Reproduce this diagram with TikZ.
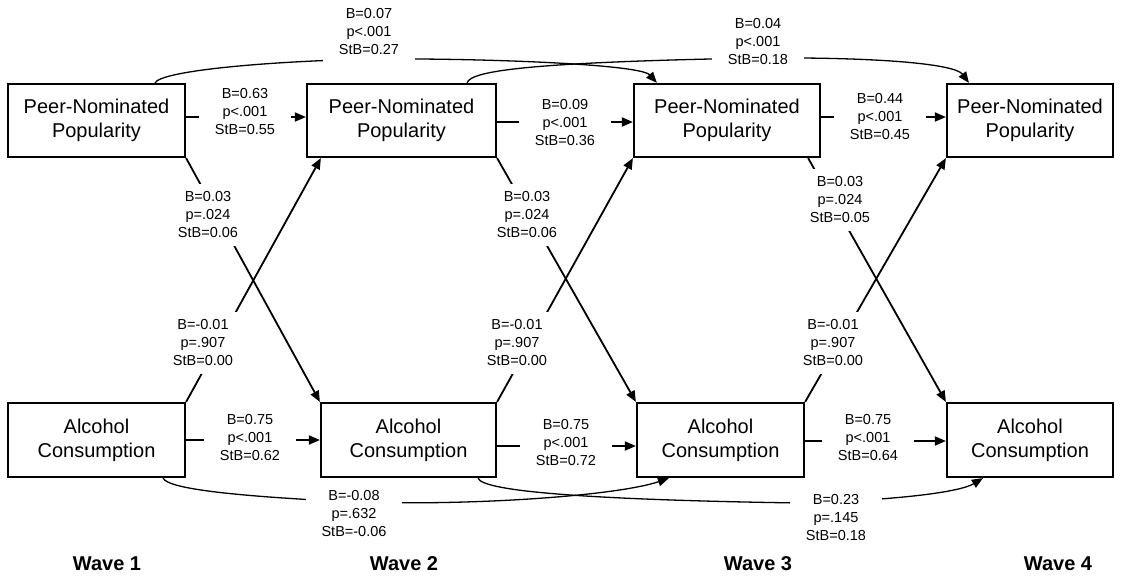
\documentclass[tikz,border=0pt]{standalone}
\usepackage{fontspec}
\setmainfont{Liberation Sans}
\usetikzlibrary{arrows.meta}
\begin{document}
\begin{tikzpicture}[x=1pt,y=-1pt,
  box/.style={draw,line width=2.2pt,align=center,font=\fontsize{20}{24}\selectfont,inner sep=0pt},
  lab/.style={fill=white,align=center,font=\fontsize{14.5}{18}\selectfont,inner xsep=16pt,inner ysep=8pt},
  arr/.style={line width=1.8pt,-{Triangle[length=11pt,width=9pt]}},
  curv/.style={line width=1.3pt,-{Triangle[length=11pt,width=9pt]}},
  wavelab/.style={font=\fontsize{20}{24}\selectfont\bfseries}]
\useasboundingbox (0,0) rectangle (1124,579);
% boxes
\node[box,minimum width=177pt,minimum height=73pt] (P1) at (96.5,120.5) {Peer-Nominated\\Popularity};
\node[box,minimum width=189pt,minimum height=73pt] (P2) at (401.5,120.5) {Peer-Nominated\\Popularity};
\node[box,minimum width=186pt,minimum height=73pt] (P3) at (727,120.5) {Peer-Nominated\\Popularity};
\node[box,minimum width=166pt,minimum height=73pt] (P4) at (1030,120.5) {Peer-Nominated\\Popularity};
\node[box,minimum width=177pt,minimum height=74pt] (A1) at (96.5,440) {Alcohol\\Consumption};
\node[box,minimum width=175pt,minimum height=74pt] (A2) at (408.5,440) {Alcohol\\Consumption};
\node[box,minimum width=167pt,minimum height=74pt] (A3) at (720.5,440) {Alcohol\\Consumption};
\node[box,minimum width=166pt,minimum height=74pt] (A4) at (1030,440) {Alcohol\\Consumption};
% horizontal paths
\draw[arr] ([yshift=3.5pt]P1.east) -- ([yshift=3.5pt]P2.west);
\draw[arr] ([yshift=-1.5pt]P2.east) -- ([yshift=-1.5pt]P3.west);
\draw[arr] ([yshift=3.5pt]P3.east) -- ([yshift=3.5pt]P4.west);
\draw[arr] (A1.east) -- (A2.west);
\draw[arr] ([yshift=-6pt]A2.east) -- ([yshift=-6pt]A3.west);
\draw[arr] ([yshift=-1pt]A3.east) -- ([yshift=-1pt]A4.west);
% cross paths
\draw[arr] (P1.south east) -- (A2.north west);
\draw[arr] (A1.north east) -- ([xshift=15pt]P2.south west);
\draw[arr] (P2.south east) -- (A3.north west);
\draw[arr] (A2.north east) -- (P3.south west);
\draw[arr] ([xshift=-13pt]P3.south east) -- (A4.north west);
\draw[arr] (A3.north east) -- (P4.south west);
% lag-2 curves
\draw[curv] ([xshift=-31pt]P1.north east) .. controls (160,72) and (250,62) .. (369,59)
  .. controls (480,58) and (640,64) .. ([xshift=24pt]P3.north west);
\draw[curv] ([xshift=-30pt]P2.north east) .. controls (470,70) and (540,62) .. (758,58)
  .. controls (880,57) and (955,64) .. ([xshift=23pt]P4.north west);
\draw[curv] ([xshift=-23pt]A1.south east) .. controls (168,490) and (250,497) .. (354,502)
  .. controls (480,506) and (620,495) .. ([xshift=33pt]A3.south west);
\draw[curv] ([xshift=-19pt]A2.south east) .. controls (482,492) and (600,500) .. (800,503)
  .. controls (900,500) and (960,492) .. ([xshift=37pt]A4.south west);
% labels
\node[lab] (l1) at (245,112) {B=0.63\\p<.001\\StB=0.55};
\node[lab] (l2) at (565,123) {B=0.09\\p<.001\\StB=0.36};
\node[lab] (l3) at (880,117) {B=0.44\\p<.001\\StB=0.45};
\node[lab] (l4) at (250,437) {B=0.75\\p<.001\\StB=0.62};
\node[lab] (l5) at (566,442) {B=0.75\\p<.001\\StB=0.72};
\node[lab] (l6) at (868,437) {B=0.75\\p<.001\\StB=0.64};
\node[lab] (l7) at (208,215) {B=0.03\\p=.024\\StB=0.06};
\node[lab] (l8) at (203,343) {B=-0.01\\p=.907\\StB=0.00};
\node[lab] (l9) at (527,215) {B=0.03\\p=.024\\StB=0.06};
\node[lab] (l10) at (517,343) {B=-0.01\\p=.907\\StB=0.00};
\node[lab] (l11) at (840,200) {B=0.03\\p=.024\\StB=0.05};
\node[lab] (l12) at (833,343) {B=-0.01\\p=.907\\StB=0.00};
\node[lab] (l13) at (369,32) {B=0.07\\p<.001\\StB=0.27};
\node[lab] (l14) at (758,42) {B=0.04\\p<.001\\StB=0.18};
\node[lab] (l15) at (354,513) {B=-0.08\\p=.632\\StB=-0.06};
\node[lab] (l16) at (836,517) {B=0.23\\p=.145\\StB=0.18};
% wave labels
\node[wavelab] (w1) at (107,564) {Wave 1};
\node[wavelab] (w2) at (404,564) {Wave 2};
\node[wavelab] (w3) at (758,564) {Wave 3};
\node[wavelab] (w4) at (1058,564) {Wave 4};
\end{tikzpicture}
\end{document}
